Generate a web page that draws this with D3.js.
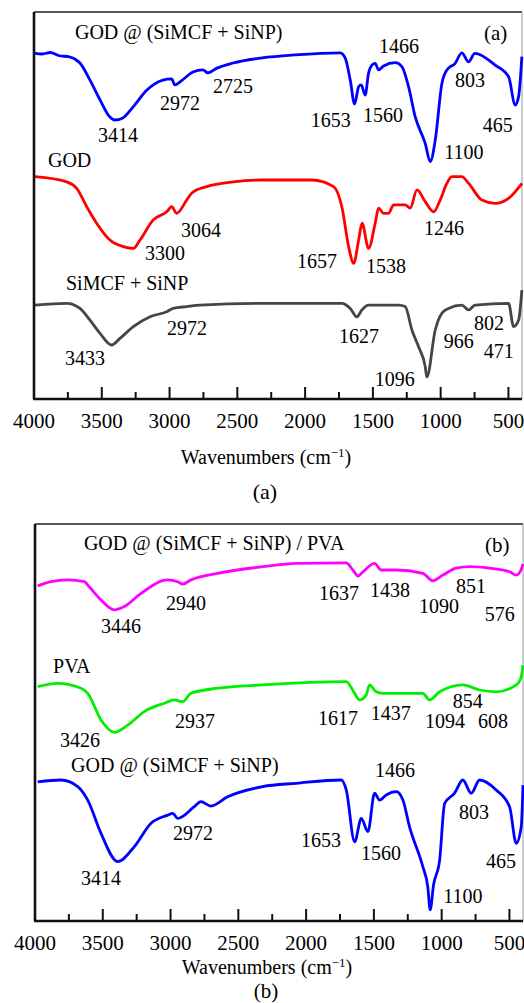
<!DOCTYPE html>
<html>
<head>
<meta charset="utf-8">
<script src="https://cdn.jsdelivr.net/npm/d3@7/dist/d3.min.js"></script>
<style>
  body { margin: 0; background: #fff; }
</style>
</head>
<body>
<script>
// axis ticks (wavenumber, cm-1)
var majorTicks = [4000, 3500, 3000, 2500, 2000, 1500, 1000, 500]
var minorTicks = [3750, 3250, 2750, 2250, 1750, 1250, 750]

// panel (a) spectra: [wavenumber, transmittance (a.u., offset)]
var godSiA = [[4000,115.3],[3940,115],[3880,115.5],[3820,114.5],[3735,114],[3661,112],[3587,106.3],[3513,99.7],
  [3440,94],[3405,93],[3344,93.7],[3270,97.3],[3167,103],[3049,106.3],[2985,106.7],[2960,104.7],[2923,105.7],
  [2827,109],[2754,109.7],[2717,108.7],[2650,110.3],[2532,112],[2318,113.7],[2075,114.7],[1741,115.4],
  [1704,113.6],[1667,106.3],[1635,98.3],[1605,104.1],[1586,104.7],[1557,101.3],[1532,108.6],[1507,111.3],
  [1483,111.9],[1458,109.7],[1421,111],[1335,112.1],[1286,110.8],[1237,104.1],[1188,94.1],[1114,85.2],
  [1077,79.1],[1040,86.3],[991,105.2],[954,109.7],[893,111.9],[844,115.4],[794,112.4],[748,115.2],
  [598,111.3],[499,107.4],[450,98],[425,100.8],[401,114.1]]
var god = [[3993,74.1],[3759,72.4],[3685,70.2],[3611,64.1],[3538,58.6],[3440,53],[3341,50.8],[3267,50.2],
  [3218,53],[3120,59.7],[3021,62.4],[2984,64.1],[2948,61.9],[2874,66.3],[2837,68.6],[2726,70.8],[2530,72.4],
  [2321,73],[1950,73],[1790,70.8],[1729,64.1],[1679,50.8],[1642,45.2],[1605,53],[1580,58.6],[1532,50.2],
  [1483,58.6],[1458,63.6],[1421,61.9],[1384,61.9],[1347,64.7],[1262,64.7],[1225,63.6],[1175,69.7],
  [1114,65.8],[1052,62.4],[1004,66.3],[954,71.9],[917,74.1],[844,74.1],[794,71.9],[696,66.3],[598,65.2],
  [499,66.9],[400,71.9]]
var siOnly = [[3993,31.3],[3759,31.9],[3661,30.2],[3587,26.3],[3513,21.9],[3427,18],[3366,20.2],[3267,24.1],
  [3144,27.4],[3021,29.1],[2973,30.2],[2874,30.8],[2776,31.3],[2321,31.9],[1729,31.9],[1667,30.2],
  [1618,27.4],[1581,29.7],[1532,31.3],[1310,31.3],[1262,30.8],[1212,23],[1163,17.4],[1114,10.8],
  [1102,7.3],[1040,23],[991,28.6],[942,30.2],[844,31.3],[794,29.7],[746,31.3],[499,31.9],[462,24.1],
  [425,26.3],[401,36.3]]

// panel (b) spectra
var godSiPva = [[3980,111.7],[3882,113.1],[3759,113.7],[3636,113.1],[3600,111.4],[3513,107],[3415,103.7],
  [3341,104.8],[3218,109.2],[3021,113.7],[2948,113.1],[2911,112.3],[2850,113.7],[2653,115.9],[2321,118.1],
  [2073,119.2],[1704,119.4],[1655,117],[1618,115],[1581,116.4],[1495,119.2],[1446,117],[1335,117],
  [1139,115.9],[1065,113.4],[991,115.3],[893,117.6],[794,118.1],[647,117.6],[499,116.4],[450,115.3],
  [415,117],[400,119]]
var pva = [[3980,78.1],[3833,79.2],[3661,77.6],[3611,75.9],[3513,67],[3415,62.9],[3316,65.3],[3194,69.8],
  [3046,72.6],[2973,73.7],[2911,73.1],[2850,75.9],[2653,77.6],[2321,78.7],[1704,79.8],[1642,75.9],
  [1605,73.7],[1557,75.3],[1532,78.7],[1483,76.4],[1434,75.9],[1139,75.9],[1089,73.7],[1015,76.4],
  [844,78.7],[720,77],[598,76.4],[450,78.7],[413,81.4],[401,85.3]]
var godSiB = [[3980,46.4],[3808,47],[3685,44.8],[3611,40.3],[3513,29.2],[3390,19.8],[3267,24.8],[3144,32.6],
  [3021,35.3],[2984,35.9],[2948,34.2],[2825,38.1],[2776,39.8],[2702,38.3],[2579,41.4],[2321,44.8],
  [2073,45.9],[1741,47],[1704,43.7],[1642,26.4],[1593,34.2],[1544,29.8],[1495,42.6],[1458,40.3],
  [1409,42],[1335,43.1],[1286,40.3],[1237,31.4],[1139,18.1],[1102,11.3],[1085,3.7],[1060,12],[1015,20.3],
  [978,39.2],[905,42.6],[844,47],[782,42.6],[720,47],[598,43.7],[499,38.1],[450,25.9],[413,31.4],[400,45.3]]

// peak labels: [text, wavenumber, value]
var peaksA = [["3414",3380,85.7],["2972",2923,96.3],["2725",2532,102],["1466",1308,115.3],["1653",1810,90.7],
  ["1560",1426,92.3],["803",784,104],["465",578,89],["1100",829,80],["3300",3034,46.3],["3064",2768,54],
  ["1657",1913,43.7],["1538",1404,42],["1246",976,54.7],["3433",3624,11.3],["2972",2872,21.3],
  ["1627",1603,18.7],["1096",1338,4.3],["966",866,17],["802",644,23],["471",571,13.7]]
var peaksB = [["3446",3366,96],["2940",2886,103.7],["1637",1758,107],["1438",1382,108],["1090",1020,102.7],
  ["851",784,109.3],["576",571,100],["3426",3668,58],["2937",2820,64.3],["1617",1765,65.3],["1437",1375,67],
  ["1094",976,64.3],["854",807,71],["608",622,64.3],["3414",3513,12],["2972",2835,27],["1466",1345,48],
  ["1653",1891,24.7],["1560",1448,20.3],["803",762,34],["465",563,17.7],["1100",844,6]]

// sample names: [text, wavenumber, value]
var namesA = [["GOD @ (SiMCF + SiNP)",3698,120],["GOD",3897,77.3],["SiMCF + SiNP",3764,36.3]]
var namesB = [["GOD @ (SiMCF + SiNP) / PVA",3639,123.7],["PVA",3867,82.7],["GOD @ (SiMCF + SiNP)",3734,49.7]]

var W = 524, H = 1003
var FONT = "'Liberation Serif', 'Times New Roman', Times, serif"
var svg = d3.select("body").append("svg").attr("width", W).attr("height", H)
  .attr("font-family", FONT)

function drawPanel(p) {
  var g = svg.append("g").attr("transform", "translate(" + p.left + "," + p.top + ")")
  var width = p.width, height = p.height

  var x = d3.scaleLinear().domain([4000, 400]).range([0, width])
  var y = d3.scaleLinear().domain([0, height / 3]).range([height, 0])

  var line = d3.line()
    .x(function(d){ return x(d[0]) })
    .y(function(d){ return y(d[1]) })
    .curve(d3.curveMonotoneX)

  // frame: top and right light, left and bottom heavy
  g.append("line").attr("x1", 0).attr("x2", width).attr("y1", 0).attr("y2", 0)
    .attr("stroke", "#555").attr("stroke-width", 2)
  g.append("line").attr("x1", width).attr("x2", width).attr("y1", 0).attr("y2", height)
    .attr("stroke", "#999").attr("stroke-width", 1)

  p.series.forEach(function(s){
    g.append("path").datum(s.data).attr("d", line)
      .attr("fill", "none").attr("stroke", s.color).attr("stroke-width", 2.8)
      .attr("stroke-linejoin", "round")
  })

  g.append("line").attr("x1", 0).attr("x2", 0).attr("y1", 0).attr("y2", height)
    .attr("stroke", "#111").attr("stroke-width", 2.6)

  // bottom axis, ticks pointing inward
  var axis = g.append("g").attr("transform", "translate(0," + height + ")")
  axis.append("line").attr("x1", -1).attr("x2", width).attr("stroke", "#111").attr("stroke-width", 2.6)
  axis.selectAll(".maj").data(majorTicks).enter().append("line")
    .attr("x1", x).attr("x2", x).attr("y1", 0).attr("y2", -12)
    .attr("stroke", "#111").attr("stroke-width", 2)
  axis.selectAll(".min").data(minorTicks).enter().append("line")
    .attr("x1", x).attr("x2", x).attr("y1", 0).attr("y2", -7)
    .attr("stroke", "#111").attr("stroke-width", 2)
  axis.selectAll(".tl").data(majorTicks).enter().append("text")
    .attr("x", x).attr("y", 29)
    .attr("text-anchor", "middle").style("font-size", "21px")
    .text(function(d){ return d })

  var title = axis.append("text").attr("x", width / 2 - 12).attr("y", p.titleY)
    .attr("text-anchor", "middle").style("font-size", "20px")
  title.append("tspan").text("Wavenumbers (cm")
  title.append("tspan").attr("dy", -7).style("font-size", "13px").text("\u22121")
  title.append("tspan").attr("dy", 7).text(")")

  axis.append("text").attr("x", width / 2 - 13).attr("y", p.capY)
    .attr("text-anchor", "middle").style("font-size", p.capSize).text(p.tag)

  // panel tag inside the frame
  g.append("text").attr("x", width - 38).attr("y", 28)
    .style("font-size", "21px").text(p.tag)

  g.selectAll(".name").data(p.names).enter().append("text")
    .attr("x", function(d){ return x(d[1]) }).attr("y", function(d){ return y(d[2]) })
    .style("font-size", "20px").text(function(d){ return d[0] })

  g.selectAll(".peak").data(p.peaks).enter().append("text")
    .attr("x", function(d){ return x(d[1]) }).attr("y", function(d){ return y(d[2]) })
    .attr("text-anchor", "middle").style("font-size", "20px")
    .text(function(d){ return d[0] })
}

drawPanel({
  left: 34, top: 12, width: 488, height: 387, tag: "(a)", titleY: 65, capY: 100, capSize: "22px",
  series: [{data: godSiA, color: "#0000ff"}, {data: god, color: "#ff0000"}, {data: siOnly, color: "#454545"}],
  names: namesA, peaks: peaksA
})

drawPanel({
  left: 35, top: 524, width: 488, height: 397, tag: "(b)", titleY: 53, capY: 77, capSize: "21px",
  series: [{data: godSiPva, color: "#ff00ff"}, {data: pva, color: "#00ee00"}, {data: godSiB, color: "#0000ff"}],
  names: namesB, peaks: peaksB
})
</script>
</body>
</html>
